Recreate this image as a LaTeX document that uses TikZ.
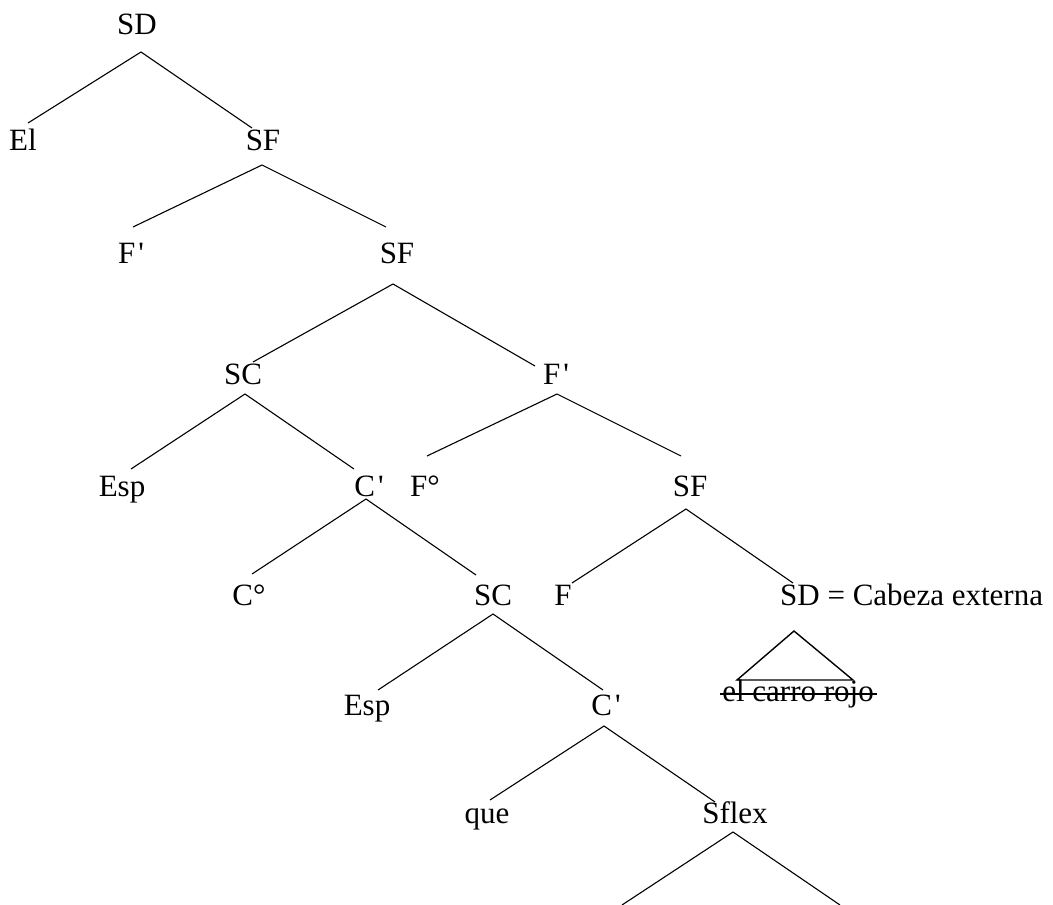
\documentclass[tikz,border=0pt]{standalone}
\usepackage{fontspec}
\setmainfont{Liberation Serif}
\newcommand{\pr}{\kern3pt\textquotesingle}
\tikzset{
  lbl/.style={inner sep=0pt, anchor=base, font=\fontsize{31}{36}\selectfont},
  branch/.style={line width=1.1pt, black},
  tri/.style={line width=1.4pt, black, line join=miter},
  strike/.style={line width=1.5pt, black}
}
\begin{document}
\begin{tikzpicture}[x=1pt,y=-1pt]
\useasboundingbox (0,0) rectangle (1053,905);
% labels
\node[lbl] (sd0) at (137,34) {SD};
\node[lbl] (el) at (23,150) {El};
\node[lbl] (sf1) at (263,150) {SF};
\node[lbl] (fp1) at (131,263) {F\pr};
\node[lbl] (sf2) at (397,263) {SF};
\node[lbl] (sc1) at (243,384) {SC};
\node[lbl] (fp2) at (556,384) {F\pr};
\node[lbl] (esp1) at (122,496) {Esp};
\node[lbl] (cp1) at (369,496) {C\pr};
\node[lbl] (fo) at (425,496) {F°};
\node[lbl] (sf3) at (690,496) {SF};
\node[lbl] (co) at (249,605) {C°};
\node[lbl] (sc2) at (493,605) {SC};
\node[lbl] (f) at (563,605) {F};
\node[lbl, anchor=base west] (sdext) at (780,605) {SD = Cabeza externa};
\node[lbl] (ecr) at (798,701) {el carro rojo};
\node[lbl] (esp2) at (367,715) {Esp};
\node[lbl] (cp2) at (606,715) {C\pr};
\node[lbl] (que) at (487,823) {que};
\node[lbl] (sflex) at (735,823) {Sflex};
% connector end points
\coordinate (sd0a) at (141,52);  \coordinate (elt) at (28,123);   \coordinate (sf1t) at (252,128);
\coordinate (sf1a) at (262,165); \coordinate (fp1t) at (133,227); \coordinate (sf2t) at (386,227);
\coordinate (sf2a) at (393,284); \coordinate (sc1t) at (253,362); \coordinate (fp2t) at (535,366);
\coordinate (sc1a) at (245,394); \coordinate (esp1t) at (131,469); \coordinate (cp1t) at (354,469);
\coordinate (fp2a) at (557,394); \coordinate (fot) at (427,456); \coordinate (sf3t) at (681,456);
\coordinate (cp1a) at (366,499); \coordinate (cot) at (252,574); \coordinate (sc2t) at (476,575);
\coordinate (sf3a) at (686,509); \coordinate (ft) at (572,583); \coordinate (sdt) at (793,583);
\coordinate (sc2a) at (493,614); \coordinate (esp2t) at (378,690); \coordinate (cp2t) at (603,690);
\coordinate (cp2a) at (604,726); \coordinate (quet) at (490,800); \coordinate (sflext) at (715,802);
\coordinate (sflexa) at (733,832); \coordinate (bl) at (622,905); \coordinate (br) at (840,905);
\coordinate (tria) at (794,631); \coordinate (tril) at (737,680); \coordinate (trir) at (853,680);
\coordinate (stl) at (720,694); \coordinate (str) at (877,694);
% branches
\draw[branch] (elt) -- (sd0a) -- (sf1t);
\draw[branch] (fp1t) -- (sf1a) -- (sf2t);
\draw[branch] (sc1t) -- (sf2a) -- (fp2t);
\draw[branch] (esp1t) -- (sc1a) -- (cp1t);
\draw[branch] (fot) -- (fp2a) -- (sf3t);
\draw[branch] (cot) -- (cp1a) -- (sc2t);
\draw[branch] (ft) -- (sf3a) -- (sdt);
\draw[branch] (esp2t) -- (sc2a) -- (cp2t);
\draw[branch] (quet) -- (cp2a) -- (sflext);
\draw[branch] (bl) -- (sflexa) -- (br);
% triangle and strike-through
\draw[tri] (tril) -- (tria) -- (trir) -- cycle;
\draw[strike] (stl) -- (str);
\end{tikzpicture}
\end{document}
